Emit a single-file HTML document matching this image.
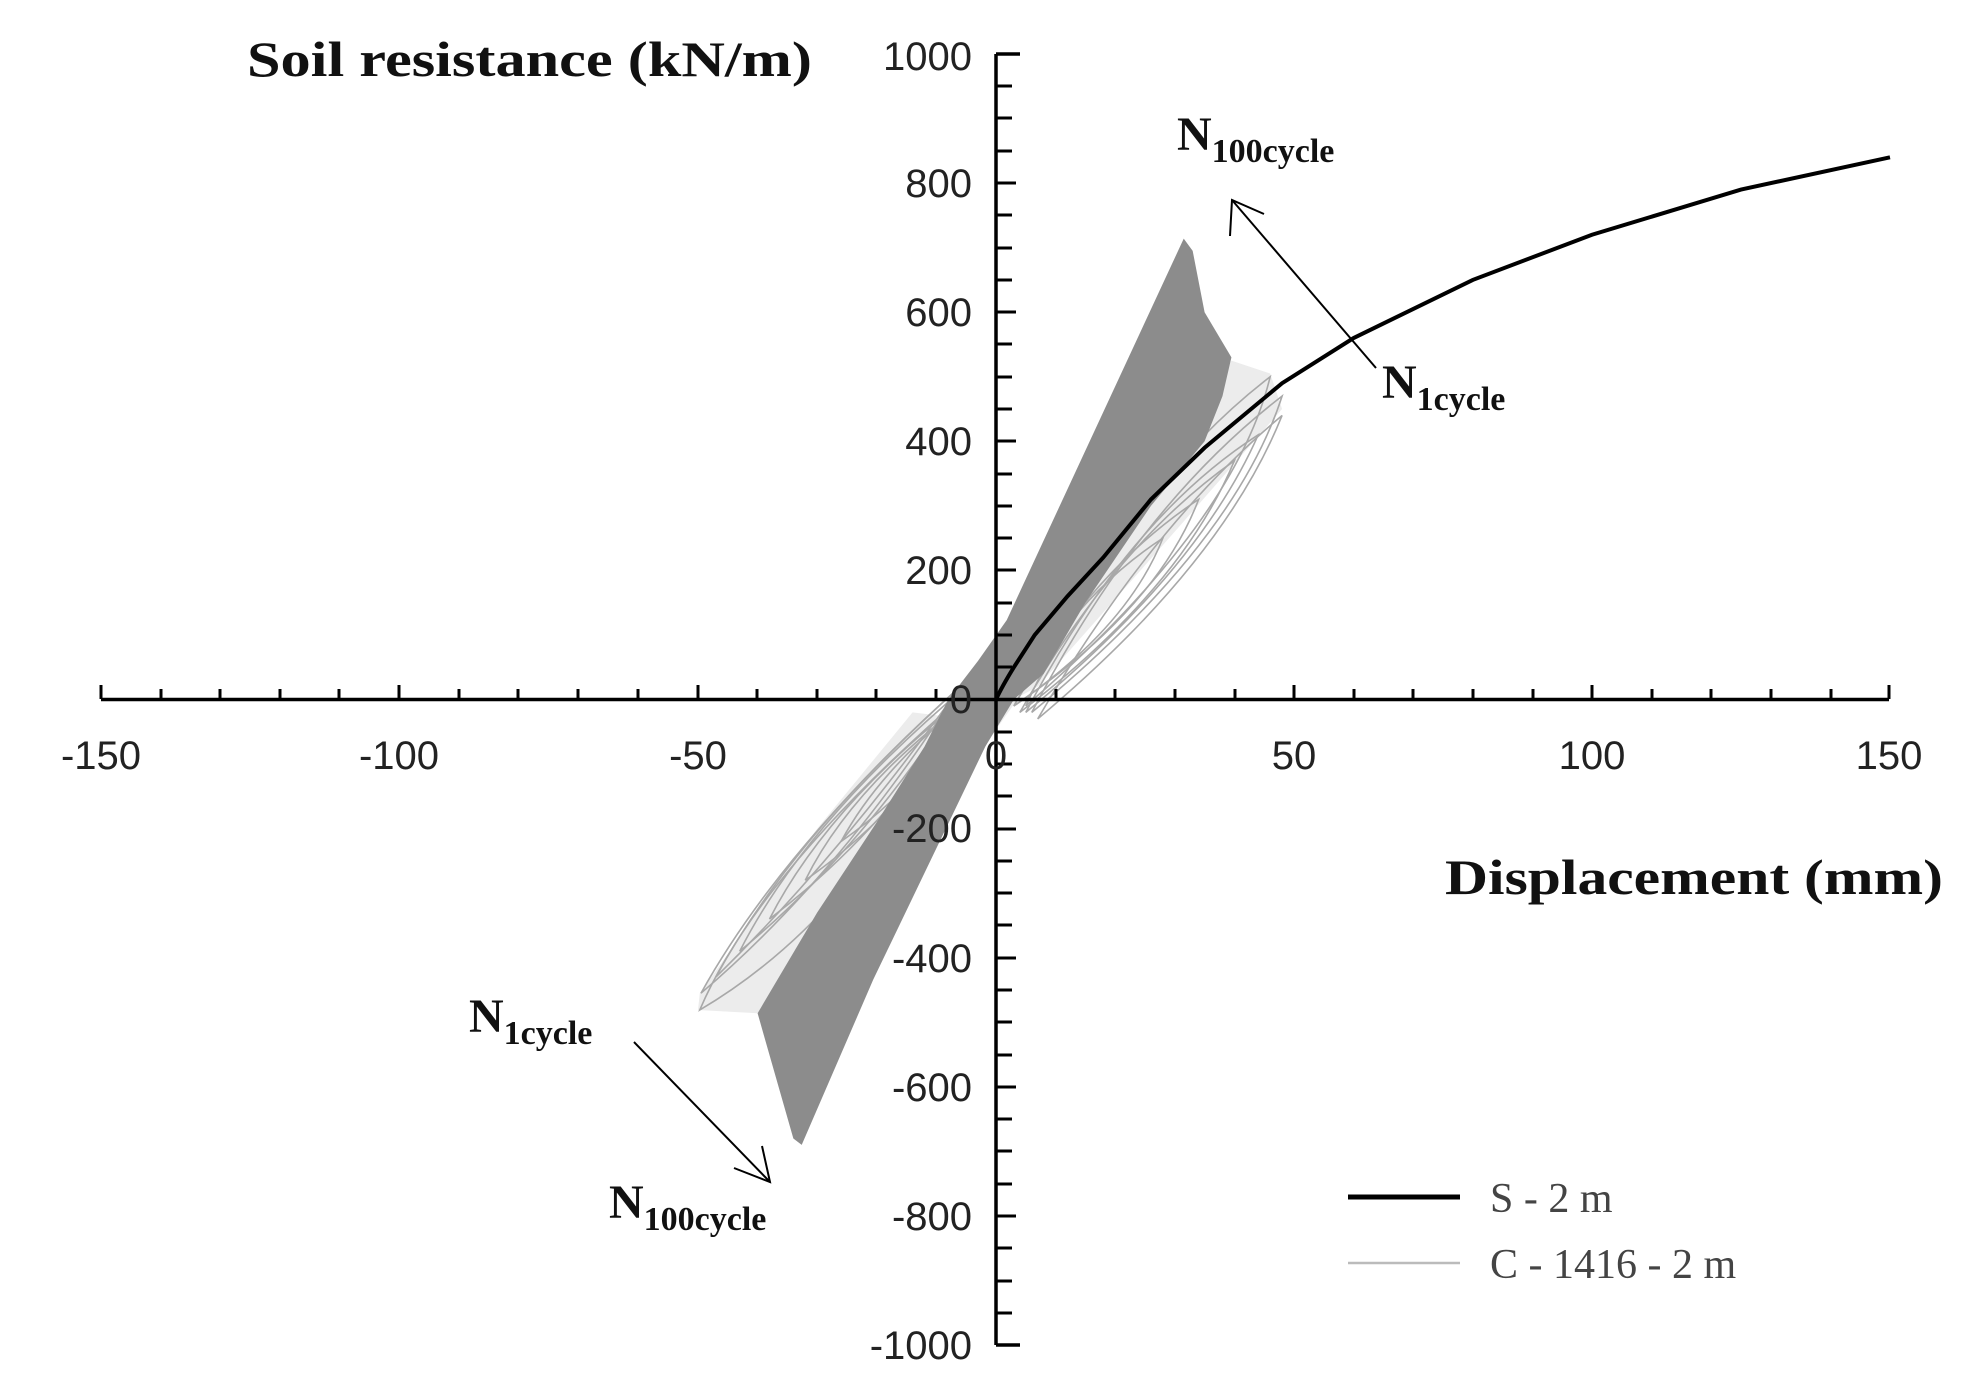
<!DOCTYPE html>
<html><head><meta charset="utf-8"><style>html,body{margin:0;padding:0;background:#fff}svg{display:block}</style></head>
<body>
<svg width="1988" height="1400" viewBox="0 0 1988 1400" xmlns="http://www.w3.org/2000/svg">
<rect width="1988" height="1400" fill="#fff"/>
<g transform="translate(996,699.5) scale(5.96,-0.6455)">
  <path fill="#ececec" d="M39.5 525 L46 505 L48 450 L30 260 L7 20 L3 0 L-5 -30 L-14 -20 L-30 -200 L-49.7 -455 L-50 -481 L-40 -486 L-20 -190 L-2 -73 L15 150 Z"/>
  <g fill="none" stroke="#a8a8a8" stroke-width="1.6">
    <path vector-effect="non-scaling-stroke" d="M5 -10 Q22 330 46 500 Q40 270 5 -10Z"/>
    <path vector-effect="non-scaling-stroke" d="M6 -20 Q24 300 48 470 Q40 240 6 -20Z"/>
    <path vector-effect="non-scaling-stroke" d="M7 -30 Q26 270 48 440 Q38 210 7 -30Z"/>
    <path vector-effect="non-scaling-stroke" d="M5 -20 Q22 280 44 410 Q34 200 5 -20Z"/>
    <path vector-effect="non-scaling-stroke" d="M4 -20 Q20 240 40 370 Q31 170 4 -20Z"/>
    <path vector-effect="non-scaling-stroke" d="M3 -10 Q16 200 34 310 Q27 140 3 -10Z"/>
    <path vector-effect="non-scaling-stroke" d="M3 -10 Q13 160 28 250 Q22 110 3 -10Z"/>
    <path vector-effect="non-scaling-stroke" d="M-5 10 Q-22 -330 -49.7 -481 Q-40 -270 -5 10Z"/>
    <path vector-effect="non-scaling-stroke" d="M-6 20 Q-26 -270 -49.5 -455 Q-36 -230 -6 20Z"/>
    <path vector-effect="non-scaling-stroke" d="M-6 20 Q-26 -240 -47 -430 Q-34 -210 -6 20Z"/>
    <path vector-effect="non-scaling-stroke" d="M-5 20 Q-22 -230 -43 -390 Q-32 -190 -5 20Z"/>
    <path vector-effect="non-scaling-stroke" d="M-4 10 Q-18 -200 -38 -340 Q-28 -160 -4 10Z"/>
    <path vector-effect="non-scaling-stroke" d="M-3 10 Q-15 -170 -32 -280 Q-24 -130 -3 10Z"/>
    <path vector-effect="non-scaling-stroke" d="M-3 10 Q-12 -130 -26 -220 Q-19 -100 -3 10Z"/>
  </g>
  <path fill="#8c8c8c" d="M31.5 714 L33 695 L35 600 L39.5 530 L38 470 L35 400 L26 300 L15 150 L8 40 L3 0 L-1.8 -73 L-20.6 -434 L-32.6 -690 L-34 -680 L-38.4 -538 L-40 -486 L-30 -330 L-20 -190 L-12 -73 L-8 0 L-3 60 L1.8 123 Z"/>
  <path fill="none" stroke="#000" stroke-width="4" vector-effect="non-scaling-stroke" d="M0 0 C1 20 2 35 3 50 L6.5 100 L12 160 L18 220 L26 310 L35 390 L48 490 L60 560 L80 650 L100 720 L125 790 L150 840"/>
</g>
<g stroke="#000" stroke-width="3.5" fill="none">
  <line x1="101" y1="699.5" x2="1889" y2="699.5"/>
  <line x1="996" y1="54" x2="996" y2="1345"/>
  <line x1="996" y1="54" x2="1020" y2="54"/>
  <line x1="996" y1="1345" x2="1020" y2="1345"/>
</g>
<g stroke="#000" stroke-width="3">
  <path d="M101 699v-14M161 699v-10M220 699v-10M280 699v-10M339 699v-10M399 699v-14M459 699v-10M518 699v-10M578 699v-10M638 699v-10M698 699v-14M757 699v-10M817 699v-10M876 699v-10M936 699v-10M1056 699v-10M1115 699v-10M1175 699v-10M1235 699v-10M1294 699v-14M1354 699v-10M1413 699v-10M1473 699v-10M1533 699v-10M1592 699v-14M1652 699v-10M1711 699v-10M1771 699v-10M1831 699v-10M1889 699v-14"/>
  <path d="M996 86h16M996 118h16M996 151h16M996 183h20M996 215h16M996 248h16M996 280h16M996 312h20M996 344h16M996 377h16M996 409h16M996 441h20M996 474h16M996 506h16M996 538h16M996 570h20M996 603h16M996 635h16M996 667h16M996 732h16M996 764h16M996 796h16M996 829h20M996 861h16M996 893h16M996 925h16M996 958h20M996 990h16M996 1022h16M996 1055h16M996 1087h20M996 1119h16M996 1151h16M996 1184h16M996 1216h20M996 1248h16M996 1281h16M996 1313h16"/>
</g>
<g font-family="Liberation Sans, sans-serif" font-size="40" fill="#222" text-anchor="end">
  <text x="972" y="70">1000</text>
  <text x="972" y="197">800</text>
  <text x="972" y="326">600</text>
  <text x="972" y="455">400</text>
  <text x="972" y="584">200</text>
  <text x="972" y="713">0</text>
  <text x="972" y="842">-200</text>
  <text x="972" y="972">-400</text>
  <text x="972" y="1101">-600</text>
  <text x="972" y="1230">-800</text>
  <text x="972" y="1359">-1000</text>
</g>
<g font-family="Liberation Sans, sans-serif" font-size="40" fill="#222" text-anchor="middle">
  <text x="101" y="769">-150</text>
  <text x="399" y="769">-100</text>
  <text x="698" y="769">-50</text>
  <text x="996" y="769">0</text>
  <text x="1294" y="769">50</text>
  <text x="1592" y="769">100</text>
  <text x="1889" y="769">150</text>
</g>
<g font-family="Liberation Serif, serif" font-weight="bold" fill="#111">
  <text x="247" y="76" font-size="50" textLength="565" lengthAdjust="spacingAndGlyphs">Soil resistance (kN/m)</text>
  <text x="1445" y="894" font-size="50" textLength="498" lengthAdjust="spacingAndGlyphs">Displacement (mm)</text>
  <text x="1177" y="150" font-size="48">N<tspan font-size="34" dy="12">100cycle</tspan></text>
  <text x="1382" y="398" font-size="48">N<tspan font-size="34" dy="12">1cycle</tspan></text>
  <text x="469" y="1032" font-size="48">N<tspan font-size="34" dy="12">1cycle</tspan></text>
  <text x="609" y="1218" font-size="48">N<tspan font-size="34" dy="12">100cycle</tspan></text>
</g>
<g stroke="#000" stroke-width="2" fill="none">
  <line x1="1376" y1="368" x2="1232" y2="200"/>
  <path d="M1230 236 L1232 200 L1264 214"/>
  <line x1="634" y1="1042" x2="770" y2="1182"/>
  <path d="M734 1168 L770 1182 L762 1146"/>
</g>
<line x1="1348" y1="1197" x2="1460" y2="1197" stroke="#000" stroke-width="5"/>
<line x1="1348" y1="1263" x2="1460" y2="1263" stroke="#bbb" stroke-width="2.5"/>
<g font-family="Liberation Serif, serif" font-size="42" fill="#444">
  <text x="1490" y="1212">S - 2 m</text>
  <text x="1490" y="1278">C - 1416 - 2 m</text>
</g>
</svg>
</body></html>
